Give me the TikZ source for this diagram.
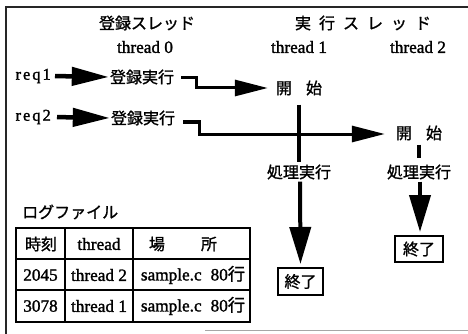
\documentclass[tikz,border=0pt]{standalone}
\usepackage{fontspec}
\setmainfont[FakeBold=1.5]{Liberation Serif}
\newfontfamily\jp[FakeBold=1.2]{Noto Sans CJK JP}
\newfontfamily\spaced[LetterSpace=12,FakeBold=1.5]{Liberation Serif}
\usetikzlibrary{arrows.meta}
\tikzset{
  jptext/.style={inner sep=0pt, font=\jp\fontsize{16}{18}\selectfont},
  lattext/.style={inner sep=0pt, font=\fontsize{17.2}{19}\selectfont},
  reqtext/.style={inner sep=0pt, font=\spaced\fontsize{16.5}{18}\selectfont},
  endbox/.style={draw, line width=2pt, inner sep=0pt, minimum width=45pt, minimum height=27pt, font=\jp\fontsize{16}{18}\selectfont},
  reqarrow/.style={line width=4.5pt, -{Triangle[length=37pt,width=18pt]}},
  flowarrow/.style={line width=3pt, -{Triangle[length=33pt,width=16pt]}},
  downarrow/.style={line width=4pt, -{Triangle[length=37pt,width=21pt]}},
  vline/.style={line width=4pt},
  tabline/.style={line width=2.2pt},
}
\begin{document}
\begin{tikzpicture}[x=1pt,y=-1pt]
\useasboundingbox (0,0) rectangle (468,334);
% frame
\draw[line width=2.5pt, black!85] (6,7) -- (6,334);
\draw[line width=2pt, black!85] (5,7) -- (468,7);
\draw[line width=1pt, black!35] (205,330) -- (468,330);

% headings
\node[jptext] (t0title) at (147,23) {登録スレッド};
\node[lattext] (t0) at (145,47) {thread 0};
\node[jptext] (extitle) at (363,23) {実\hspace{8pt}行\hspace{8pt}ス\hspace{8pt}レ\hspace{8pt}ッ\hspace{8pt}ド};
\node[lattext] (t1) at (299,47) {thread 1};
\node[lattext] (t2) at (418,47) {thread 2};

% requests
\node[reqtext, anchor=east] (req1) at (51,76) {req1};
\node[reqtext, anchor=east] (req2) at (51,117) {req2};
\node[jptext] (reg1) at (142,77) {登録実行};
\node[jptext] (reg2) at (143,118) {登録実行};
\node[jptext] (ks1) at (299,88) {開\hspace{14pt}始};
\node[jptext] (ks2) at (419,133) {開\hspace{14pt}始};
\node[jptext] (sh1) at (299,172) {処理実行};
\node[jptext] (sh2) at (419,172) {処理実行};
\node[endbox] (end1) at (300.5,281.5) {終了};
\node[endbox, minimum width=48pt, minimum height=26pt] (end2) at (419,249) {終了};

\draw[reqarrow, shorten <=4pt, shorten >=1pt] (req1.east) -- (reg1.west);
\draw[reqarrow, shorten <=6pt, shorten >=1pt] (req2.east) -- (reg2.west);

\coordinate (b1) at (196,78);
\coordinate (b2) at (199,122);
\draw[flowarrow, shorten <=7pt, shorten >=8pt] ([yshift=-1pt]reg1.east) -- (b1) |- (ks1.west);
\draw[flowarrow, shorten <=8pt, shorten >=11pt] ([yshift=-4pt]reg2.east) -- (b2) |- ([yshift=-1pt]ks2.west);

\draw[vline, shorten <=9pt, shorten >=2pt] (ks1.south) -- (sh1.north);
\draw[vline, shorten <=4pt, shorten >=6pt] (ks2.south) -- (sh2.north);
\draw[downarrow, shorten <=2pt, shorten >=3pt] ([xshift=1pt]sh1.south) -- (end1.north);
\draw[downarrow, shorten <=2pt, shorten >=3pt] ([xshift=1pt]sh2.south) -- ([xshift=1pt]end2.north);

% log file
\node[jptext, anchor=west] (logtitle) at (22,212) {ログファイル};
\draw[tabline] (16,228) rectangle (250,322);
\draw[tabline] (16,259) -- (250,259);
\draw[tabline] (16,290) -- (250,290);
\draw[tabline] (65,228) -- (65,322);
\draw[tabline] (133,228) -- (133,322);
\node[jptext] (h1) at (41,244) {時刻};
\node[lattext] (h2) at (99,244) {thread};
\node[jptext] (h3) at (183,244) {場\hspace{36pt}所};
\node[lattext] (a1) at (40.5,275) {2045};
\node[lattext] (a2) at (99,275) {thread 2};
\node[lattext] (a3) at (193,275) {sample.c\hspace{9pt}80{\jp 行}};
\node[lattext] (b1t) at (40.5,306) {3078};
\node[lattext] (b2t) at (99,306) {thread 1};
\node[lattext] (b3t) at (193,306) {sample.c\hspace{9pt}80{\jp 行}};
\end{tikzpicture}
\end{document}
